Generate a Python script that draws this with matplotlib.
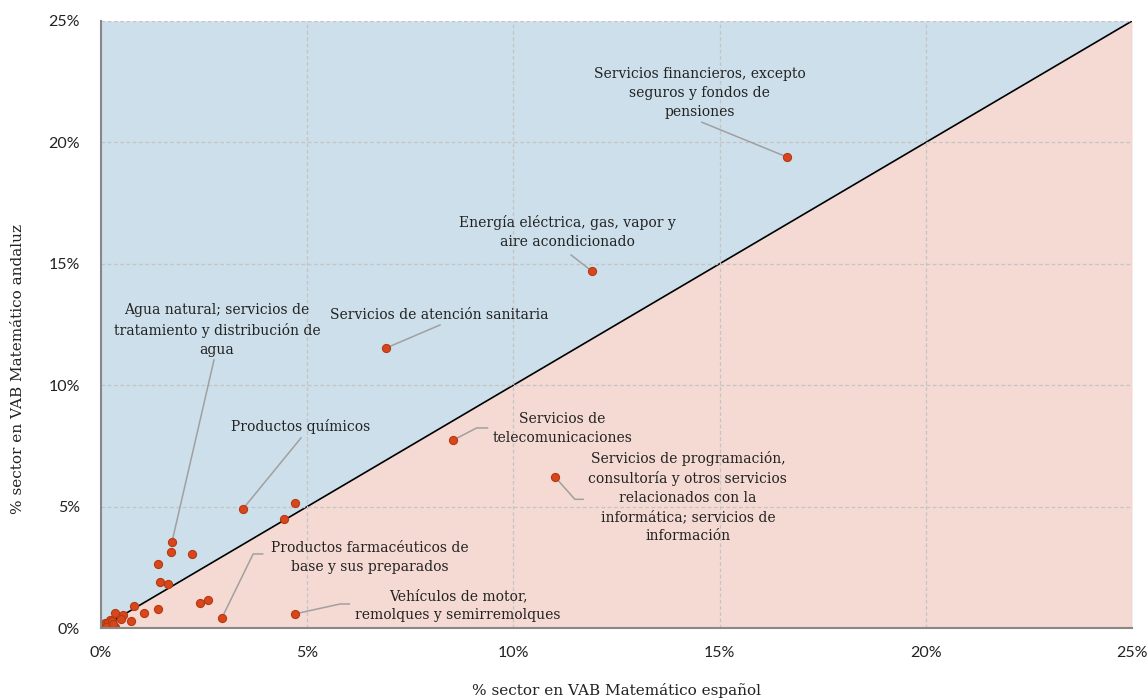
import numpy as np
import matplotlib.pyplot as plt
from matplotlib.ticker import FuncFormatter

# % del sector en el VAB del hipersector matemático: España (x) vs Andalucía (y)
spain = [16.63, 11.90, 6.91, 8.54, 11.01, 3.44, 1.72, 2.93, 4.70,
         4.70, 4.44, 2.21, 1.70, 1.38, 1.43, 1.62, 2.59, 2.39, 1.38,
         1.04, 0.80, 0.72, 0.53, 0.48, 0.34, 0.34, 0.22, 0.14, 0.10,
         0.02, 0.05, 0.18, 0.26, 0.08, 0.30, 0.12]
andalucia = [19.40, 14.70, 11.53, 7.74, 6.22, 4.90, 3.54, 0.41, 0.58,
             5.15, 4.49, 3.05, 3.13, 2.64, 1.89, 1.81, 1.15, 1.02, 0.77,
             0.63, 0.89, 0.30, 0.54, 0.38, 0.63, 0.05, 0.33, 0.12, 0.19,
             0.03, 0.08, 0.22, 0.28, 0.02, 0.15, 0.06]

# sectores etiquetados (índice del punto) y su texto
labels = [
    (0, "Servicios financieros, excepto\nseguros y fondos de\npensiones"),
    (1, "Energía eléctrica, gas, vapor y\naire acondicionado"),
    (2, "Servicios de atención sanitaria"),
    (3, "Servicios de\ntelecomunicaciones"),
    (4, "Servicios de programación,\nconsultoría y otros servicios\nrelacionados con la\ninformática; servicios de\ninformación"),
    (5, "Productos químicos"),
    (6, "Agua natural; servicios de\ntratamiento y distribución de\nagua"),
    (7, "Productos farmacéuticos de\nbase y sus preparados"),
    (8, "Vehículos de motor,\nremolques y semirremolques"),
]

# colocación de textos y guías (coordenadas de datos)
text_pos = [(14.52, 22.03), (11.32, 16.31), (8.20, 12.89), (11.18, 8.20),
            (14.23, 5.40), (4.83, 8.28), (2.81, 12.27), (6.52, 2.92),
            (8.66, 0.91)]
leader = [[(14.57, 20.83)], [(11.40, 15.36)], [(8.22, 12.48)],
          [(9.11, 8.24), (9.37, 8.24)], [(11.49, 5.30), (11.69, 5.30)],
          [(4.85, 7.83)], [(2.74, 11.04)], [(3.69, 3.05), (3.92, 3.05)],
          [(5.80, 0.99), (6.02, 0.99)]]

ticks = [0, 5, 10, 15, 20, 25]

fig = plt.figure(figsize=(11.48, 7.0), dpi=100)
ax = fig.add_axes([101 / 1148, 72 / 700, 1031 / 1148, 607 / 700])

line = np.array([0, 25])
ax.fill_between(line, line, 25, color="#cddfea", lw=0, zorder=0)
ax.fill_between(line, 0, line, color="#f5d9d3", lw=0, zorder=0)
ax.plot(line, line, color="black", lw=1.2, zorder=2)

ax.grid(True, color="#c4c4c4", ls=(0, (3, 2)), lw=0.9, zorder=1)
ax.set_axisbelow(False)

for (i, txt), (tx, ty), pts in zip(labels, text_pos, leader):
    path = [(spain[i], andalucia[i])] + pts
    xs, ys = zip(*path)
    ax.plot(xs, ys, color="#a0a0a0", lw=1.1, zorder=3)
    ax.text(tx, ty, txt, ha="center", va="center", fontsize=10,
            family="DejaVu Serif", color="#222222", linespacing=1.45,
            zorder=5)

ax.scatter(spain, andalucia, s=34, color="#d9461b", edgecolor="#b33a12",
           linewidth=0.8, zorder=4)

ax.set_xlim(0, 25)
ax.set_ylim(0, 25)
ax.set_xticks(ticks)
ax.set_yticks(ticks)
fmt = FuncFormatter(lambda v, p: f"{v:.0f}%")
ax.xaxis.set_major_formatter(fmt)
ax.yaxis.set_major_formatter(fmt)
ax.tick_params(length=0, labelsize=11.5, colors="#222222")
ax.tick_params(axis="x", pad=13)
ax.tick_params(axis="y", pad=15)
for lab in ax.get_xticklabels() + ax.get_yticklabels():
    lab.set_family("Lato")

for s in ["top", "right"]:
    ax.spines[s].set_visible(False)
for s in ["left", "bottom"]:
    ax.spines[s].set_color("#888888")
    ax.spines[s].set_linewidth(1.5)
    ax.spines[s].set_zorder(6)

fig.text(616 / 1148, 1 - 690 / 700, "% sector en VAB Matemático español",
         ha="center", va="center", fontsize=11, family="DejaVu Serif",
         color="#222222")
fig.text(18 / 1148, 1 - 369 / 700, "% sector en VAB Matemático andaluz",
         ha="center", va="center", rotation=90, fontsize=11,
         family="DejaVu Serif", color="#222222")

fig.savefig("out.png", dpi=100)
